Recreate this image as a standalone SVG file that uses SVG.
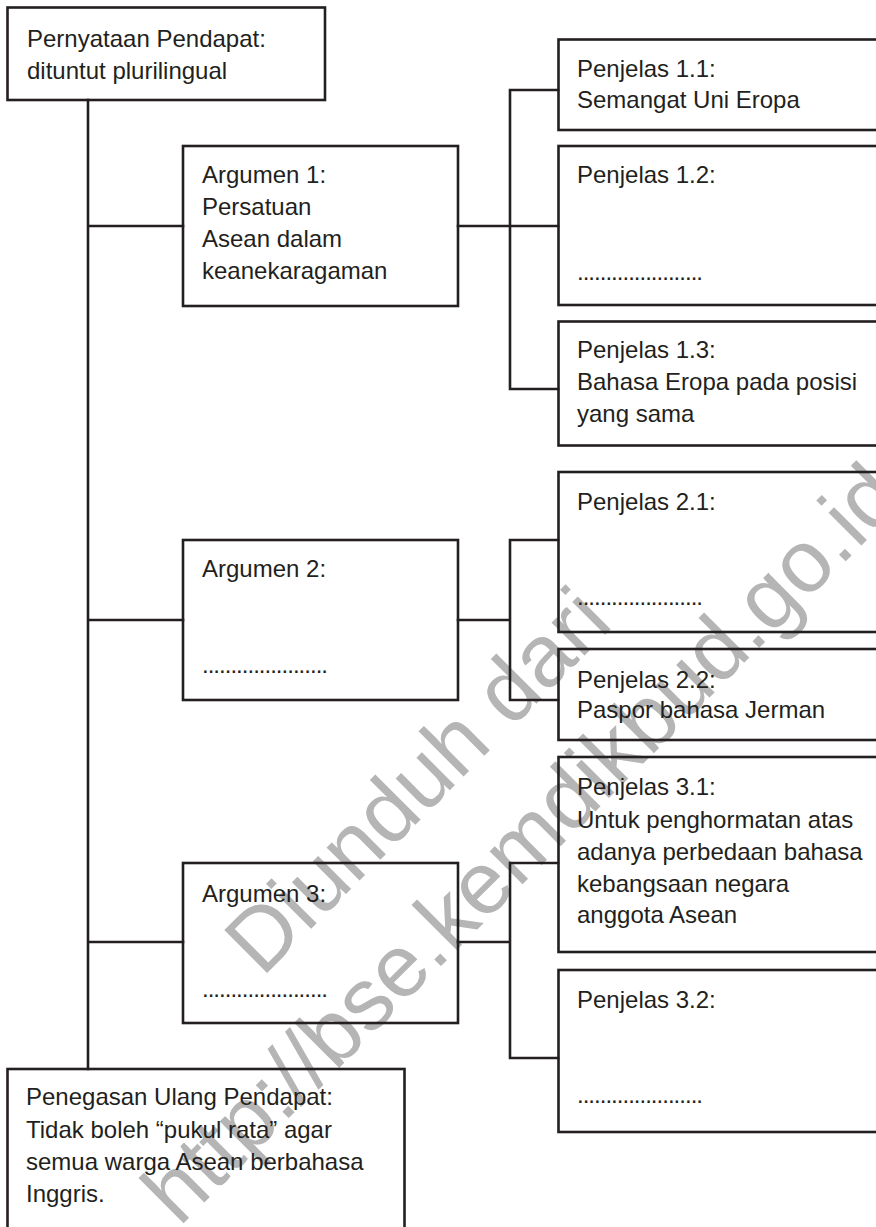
<svg xmlns="http://www.w3.org/2000/svg" width="876" height="1227" viewBox="0 0 876 1227">
<style>
.box{fill:none;stroke:#231f20;stroke-width:2.6}
.ln{fill:none;stroke:#231f20;stroke-width:2.6;stroke-linecap:square}
.t{font-family:"Liberation Sans",Arial,sans-serif;font-size:24px;fill:#231f20}
.wm{font-family:"Liberation Sans",Arial,sans-serif;font-size:88px;fill:#b5b5b5;stroke:#ffffff;stroke-width:2;paint-order:stroke}
</style>
<rect width="876" height="1227" fill="#ffffff"/>
<g id="watermark" transform="translate(262,978) rotate(-45)">
<text class="wm" x="0" y="0">Diunduh dari</text>
<text class="wm" x="-235" y="118">http://bse.kemdikbud.go.id</text>
</g>
<g id="connectors">
<path class="ln" d="M88,100 V1069 M88,226 H183 M88,620 H183 M88,942 H183"/>
<path class="ln" d="M458,226 H510 M510,90 V389 M510,90 H558 M510,226 H558 M510,389 H558"/>
<path class="ln" d="M458,620 H510 M510,540 V700 M510,540 H558 M510,700 H558"/>
<path class="ln" d="M458,942 H510 M510,863 V1058 M510,863 H558 M510,1058 H558"/>
</g>
<g id="pendapat">
<rect class="box" x="7.5" y="7.5" width="317.5" height="92.5"/>
<text class="t" x="27" y="47">Pernyataan Pendapat:</text>
<text class="t" x="27" y="79">dituntut plurilingual</text>
</g>
<g id="argumen1">
<rect class="box" x="183" y="146" width="275" height="160"/>
<text class="t" x="202" y="183">Argumen 1:</text>
<text class="t" x="202" y="215">Persatuan</text>
<text class="t" x="202" y="247">Asean dalam</text>
<text class="t" x="202" y="279">keanekaragaman</text>
</g>
<g id="argumen2">
<rect class="box" x="183" y="540" width="275" height="160"/>
<text class="t" x="202" y="577">Argumen 2:</text>
<text class="t" x="202" y="673" textLength="126" lengthAdjust="spacing">......................</text>
</g>
<g id="argumen3">
<rect class="box" x="183" y="863" width="275" height="160"/>
<text class="t" x="202" y="902">Argumen 3:</text>
<text class="t" x="202" y="997" textLength="126" lengthAdjust="spacing">......................</text>
</g>
<g id="penegasan">
<rect class="box" x="7.5" y="1069" width="397" height="200"/>
<text class="t" x="26" y="1105">Penegasan Ulang Pendapat:</text>
<text class="t" x="26" y="1138">Tidak boleh “pukul rata” agar</text>
<text class="t" x="26" y="1170">semua warga Asean berbahasa</text>
<text class="t" x="26" y="1202">Inggris.</text>
</g>
<g id="penjelas11">
<rect class="box" x="558.5" y="39.5" width="330" height="90.5"/>
<text class="t" x="577" y="77">Penjelas 1.1:</text>
<text class="t" x="577" y="108">Semangat Uni Eropa</text>
</g>
<g id="penjelas12">
<rect class="box" x="558.5" y="146" width="330" height="159"/>
<text class="t" x="577" y="183">Penjelas 1.2:</text>
<text class="t" x="577" y="280" textLength="126" lengthAdjust="spacing">......................</text>
</g>
<g id="penjelas13">
<rect class="box" x="558.5" y="321.5" width="330" height="124"/>
<text class="t" x="577" y="358">Penjelas 1.3:</text>
<text class="t" x="577" y="390">Bahasa Eropa pada posisi</text>
<text class="t" x="577" y="422">yang sama</text>
</g>
<g id="penjelas21">
<rect class="box" x="558.5" y="472" width="330" height="160"/>
<text class="t" x="577" y="510">Penjelas 2.1:</text>
<text class="t" x="577" y="605" textLength="126" lengthAdjust="spacing">......................</text>
</g>
<g id="penjelas22">
<rect class="box" x="558.5" y="649" width="330" height="91"/>
<text class="t" x="577" y="688">Penjelas 2.2:</text>
<text class="t" x="577" y="718">Paspor bahasa Jerman</text>
</g>
<g id="penjelas31">
<rect class="box" x="558.5" y="757" width="330" height="195"/>
<text class="t" x="577" y="795">Penjelas 3.1:</text>
<text class="t" x="577" y="828">Untuk penghormatan atas</text>
<text class="t" x="577" y="860">adanya perbedaan bahasa</text>
<text class="t" x="577" y="892">kebangsaan negara</text>
<text class="t" x="577" y="923">anggota Asean</text>
</g>
<g id="penjelas32">
<rect class="box" x="558.5" y="970" width="330" height="162"/>
<text class="t" x="577" y="1008">Penjelas 3.2:</text>
<text class="t" x="577" y="1103" textLength="126" lengthAdjust="spacing">......................</text>
</g>
</svg>
